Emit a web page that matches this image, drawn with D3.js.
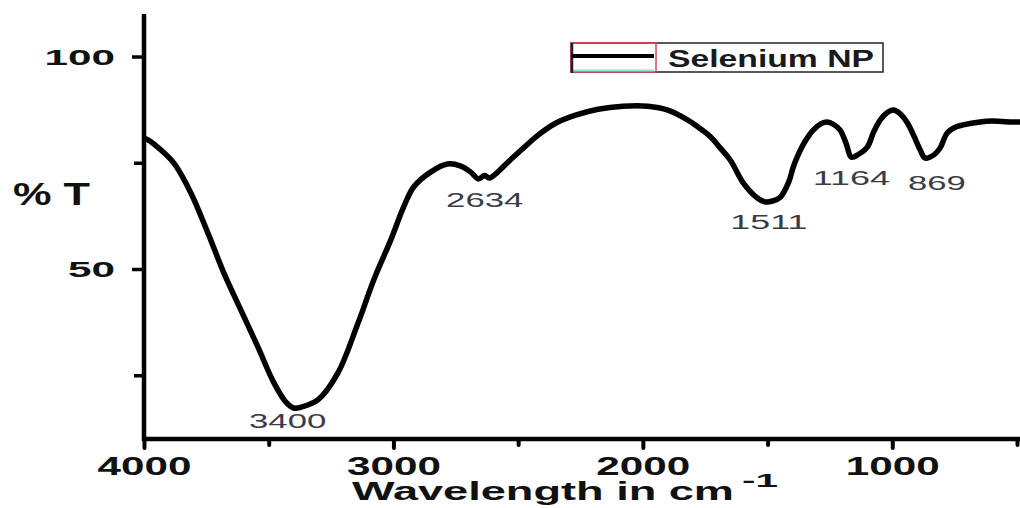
<!DOCTYPE html>
<html>
<head>
<meta charset="utf-8">
<script src="https://cdn.jsdelivr.net/npm/d3@7"></script>
<style>
  html, body { margin: 0; padding: 0; background: #fff; }
  svg { display: block; }
  text { font-family: "Liberation Sans", Arial, sans-serif; }
</style>
</head>
<body>
<svg id="chart" width="1020" height="508"></svg>
<script>
// FTIR spectrum of selenium nanoparticles: wavenumber (cm^-1) vs %T
const wavenumber = [4000, 3984, 3932, 3880, 3812, 3744, 3680, 3612, 3543, 3479, 3430, 3400, 3370,
  3303, 3223, 3143, 3079, 3011, 2959, 2919, 2851, 2783, 2730, 2690, 2660, 2634, 2615, 2590,
  2540, 2480, 2420, 2350, 2270, 2180, 2080, 1980, 1900, 1821, 1760, 1729, 1690, 1649, 1597,
  1541, 1511, 1480, 1449, 1415, 1397, 1381, 1350, 1317, 1285, 1261, 1235, 1209, 1185, 1164,
  1135, 1100, 1075, 1048, 1020, 996, 970, 940, 915, 888, 869, 850, 830, 808, 780, 750, 716,
  648, 600, 560, 516, 488];
const transmittance = [80.8, 80.4, 78.0, 74.9, 67.9, 58.5, 49.1, 40.4, 31.6, 23.2, 18.6, 17.3, 17.5,
  19.2, 25.5, 37.1, 47.4, 56.8, 64.6, 69.3, 72.8, 74.7, 74.2, 72.8, 71.2, 72.0, 71.4, 72.4,
  75.2, 78.4, 81.5, 84.3, 86.2, 87.6, 88.3, 88.3, 87.4, 85.1, 82.6, 81.1, 78.5, 75.6, 70.2,
  66.7, 65.8, 66.0, 66.9, 70.5, 74.0, 76.4, 80.0, 82.7, 84.2, 84.6, 84.0, 82.7, 79.5, 76.3,
  77.0, 78.7, 82.2, 85.1, 86.8, 87.4, 86.6, 84.4, 81.5, 78.0, 76.1, 76.3, 77.0, 78.5, 82.0, 83.3, 83.9,
  84.6, 84.8, 84.7, 84.6, 84.6];

// annotated absorption bands
const peakLabels = ["3400", "2634", "1511", "1164", "869"];

const xMajorTicks = [4000, 3000, 2000, 1000];
const xMinorTicks = [3500, 2500, 1500, 500];
const yMajorTicks = [50, 100];
const yMinorTicks = [25, 75];

const seriesName = "Selenium NP";

const svg = d3.select("#chart");

const x = d3.scaleLinear().domain([4000, 488]).range([144, 1020]);
const y = d3.scaleLinear().domain([10, 110]).range([439, 14]);

const data = wavenumber.map((w, i) => ({ w, t: transmittance[i] }));

// spectrum trace
const line = d3.line()
  .x(d => x(d.w))
  .y(d => y(d.t))
  .curve(d3.curveCatmullRom.alpha(0.5));

svg.append("path")
  .datum(data)
  .attr("d", line)
  .attr("fill", "none")
  .attr("stroke", "#000")
  .attr("stroke-width", 5.5)
  .attr("stroke-linejoin", "round");

// y axis
const yAxisG = svg.append("g").attr("transform", `translate(${x(4000)},0)`);
yAxisG.call(d3.axisLeft(y).tickValues(yMajorTicks).tickSize(12).tickPadding(17)
  .tickFormat(d3.format("d")));
yAxisG.append("g").call(d3.axisLeft(y).tickValues(yMinorTicks).tickSize(10).tickFormat(""));
yAxisG.selectAll(".domain").remove();
yAxisG.selectAll("line").attr("stroke", "#000").attr("stroke-width", 3.5);
yAxisG.selectAll("text")
  .attr("fill", "#111")
  .attr("font-size", 22)
  .attr("font-weight", "bold")
  .attr("dy", "0.36em")
  .attr("textLength", d => String(d).length * 23.5)
  .attr("lengthAdjust", "spacingAndGlyphs");
svg.append("line")
  .attr("x1", x(4000)).attr("x2", x(4000))
  .attr("y1", 14).attr("y2", 441)
  .attr("stroke", "#000").attr("stroke-width", 4.5);

// x axis
const xAxisG = svg.append("g").attr("transform", `translate(0,${y(10)})`);
xAxisG.call(d3.axisBottom(x).tickValues(xMajorTicks).tickSize(9).tickPadding(10)
  .tickFormat(d3.format("d")));
xAxisG.append("g").call(d3.axisBottom(x).tickValues(xMinorTicks).tickSize(6).tickFormat(""));
xAxisG.selectAll(".domain").remove();
xAxisG.selectAll("line").attr("stroke", "#000").attr("stroke-width", 4).attr("stroke-linecap", "round");
xAxisG.selectAll("text")
  .attr("fill", "#111")
  .attr("font-size", 25)
  .attr("font-weight", "bold")
  .attr("y", 36)
  .attr("dy", 0)
  .attr("textLength", 94)
  .attr("lengthAdjust", "spacingAndGlyphs");
svg.append("line")
  .attr("x1", x(4000) - 2).attr("x2", 1020)
  .attr("y1", y(10)).attr("y2", y(10))
  .attr("stroke", "#000").attr("stroke-width", 4.5);

// axis titles
svg.append("text")
  .attr("x", 13).attr("y", 205)
  .attr("font-size", 31).attr("font-weight", "bold").attr("fill", "#111")
  .attr("textLength", 77).attr("lengthAdjust", "spacingAndGlyphs")
  .text("% T");

const xTitle = svg.append("text")
  .attr("x", 352).attr("y", 500)
  .attr("font-size", 25).attr("font-weight", "bold").attr("fill", "#111");
xTitle.append("tspan")
  .attr("textLength", 382).attr("lengthAdjust", "spacingAndGlyphs")
  .text("Wavelength in cm");
xTitle.append("tspan")
  .attr("x", 742).attr("y", 487)
  .attr("font-size", 19)
  .attr("textLength", 36).attr("lengthAdjust", "spacingAndGlyphs")
  .text("-1");

// band annotations: [dx from band position, dy below trace]
const labelOffsets = [[-6, 20], [0, 31], [4, 27], [0, 28], [12, 32]];
peakLabels.forEach((lab, i) => {
  const w = +lab;
  const idx = wavenumber.indexOf(w);
  const t = transmittance[idx];
  const [dx, dy] = labelOffsets[i];
  svg.append("text")
    .attr("x", x(w) + dx)
    .attr("y", y(t) + dy)
    .attr("text-anchor", "middle")
    .attr("font-size", 20)
    .attr("fill", "#3b3b48")
    .attr("textLength", lab.length * 19.3)
    .attr("lengthAdjust", "spacingAndGlyphs")
    .text(lab);
});

// legend
const lg = svg.append("g");
lg.append("rect")
  .attr("x", 571).attr("y", 43).attr("width", 312).attr("height", 29)
  .attr("fill", "#fff").attr("stroke", "#222").attr("stroke-width", 1.5);
lg.append("rect")
  .attr("x", 571).attr("y", 43).attr("width", 85).attr("height", 29)
  .attr("fill", "none").attr("stroke", "#d9484d").attr("stroke-width", 1.5);
lg.append("line")
  .attr("x1", 572).attr("x2", 654).attr("y1", 70.5).attr("y2", 70.5)
  .attr("stroke", "#86e3e3").attr("stroke-width", 2);
lg.append("line")
  .attr("x1", 572).attr("x2", 572).attr("y1", 43).attr("y2", 73)
  .attr("stroke", "#222").attr("stroke-width", 2.5);
lg.append("line")
  .attr("x1", 572).attr("x2", 654).attr("y1", 56).attr("y2", 56)
  .attr("stroke", "#000").attr("stroke-width", 4);
lg.append("text")
  .attr("x", 668).attr("y", 67)
  .attr("font-size", 24).attr("font-weight", "bold").attr("fill", "#1a1a1a")
  .attr("textLength", 206).attr("lengthAdjust", "spacingAndGlyphs")
  .text(seriesName);
</script>
</body>
</html>
